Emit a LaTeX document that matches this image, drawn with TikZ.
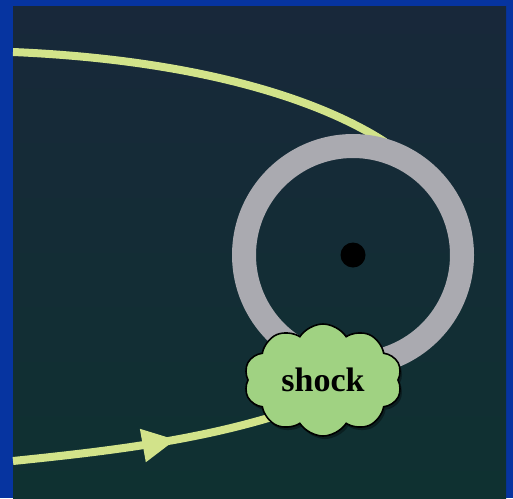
\documentclass[tikz,border=0pt]{standalone}
\usepackage{fontspec}
\setmainfont{Liberation Serif}
\usetikzlibrary{shapes.symbols,shadows,decorations.markings}
\definecolor{frameblue}{HTML}{0634A0}
\definecolor{paneltop}{HTML}{18283A}
\definecolor{panelbot}{HTML}{0F3131}
\definecolor{orbit}{HTML}{D2E38A}
\definecolor{ringgray}{HTML}{AAAAB0}
\definecolor{cloudgreen}{HTML}{A0D282}
\tikzset{
  orbitline/.style={draw=orbit, line width=8pt},
  ringstyle/.style={draw=ringgray, line width=24pt},
  shockcloud/.style={cloud, cloud puffs=10, cloud puff arc=115, aspect=1.45,
    draw=black, line width=1.6pt, fill=cloudgreen, minimum width=158pt, minimum height=112pt,
    inner sep=0pt, font=\fontsize{34}{36}\selectfont\bfseries, text=black,
    drop shadow={shadow xshift=2pt, shadow yshift=-3pt, fill=black, opacity=0.35}},
}
\begin{document}
\begin{tikzpicture}[x=1pt,y=-1pt]
\useasboundingbox (0,0) rectangle (513,498);
\fill[frameblue] (0,0) rectangle (513,498);
\shade[top color=paneltop, bottom color=panelbot] (13,6) rectangle (506,498);
% top orbit branch
\coordinate (topstart) at (13,52);
\coordinate (topend) at (385,142);
\draw[orbitline] (topstart) .. controls (200,60) and (320,100) .. (topend);
% ring
\node[circle, minimum size=218pt, inner sep=0pt] (ring) at (353,255) {};
\draw[ringstyle] (ring.center) circle (109pt);
\node[circle, fill=black, minimum size=25pt, inner sep=0pt] (core) at (353,255) {};
% bottom orbit branch with arrow
\coordinate (botstart) at (13,461);
\coordinate (botend) at (275,416);
\draw[orbitline, postaction={decorate, decoration={markings,
   mark=at position 0.6 with {\fill[orbit] (4pt,0) -- (-29pt,-17pt) -- (-29pt,17pt) -- cycle;}}}]
   (botstart) .. controls (100,452) and (190,442) .. (botend);
% shock cloud
\node[shockcloud] (shock) at (323,380) {shock};
\end{tikzpicture}
\end{document}
